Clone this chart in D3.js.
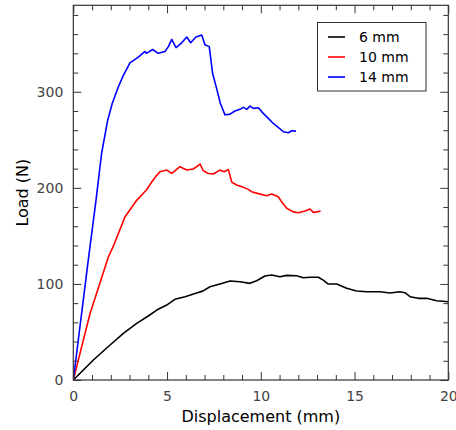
<!DOCTYPE html>
<html>
<head>
<meta charset="utf-8">
<script src="https://cdn.jsdelivr.net/npm/d3@7"></script>
<style>
  body { margin: 0; background: #fff; }
  svg { font-family: "DejaVu Sans", sans-serif; }
</style>
</head>
<body>
<div id="chart"></div>
<script>
// series names and colours
var seriesNames = ["6 mm", "10 mm", "14 mm"];
var seriesColors = ["#000000", "#ff0000", "#0000ff"];

// [displacement (mm), load (N)]
var load6 = [[0,0],[1.07,20.8],[1.96,36.4],[2.67,48.6],[3.38,59],[4.0,66.6],[4.45,72.8],[4.98,78],
  [5.42,84],[5.96,86.7],[6.58,90.5],[6.9,92.5],[7.29,97],[7.82,99.9],[8.36,103],[8.89,102.3],
  [9.42,100.6],[9.78,103.3],[10.22,108.2],[10.58,109.3],[11.02,107.5],[11.38,108.9],[11.91,108.5],
  [12.27,106.5],[12.62,106.9],[13.07,106.9],[13.33,104],[13.6,99.9],[14.05,99.9],[14.58,95.4],
  [15.11,92.6],[15.65,91.9],[16.36,91.9],[16.89,90.5],[17.42,91.9],[17.69,90.9],[17.96,86.7],
  [18.4,85],[18.85,85],[19.38,82.5],[20.0,81.5]];

var load10 = [[0,0],[0.89,69],[1.87,128],[2.13,139],[2.76,170],[3.38,187],[3.91,198],[4.18,206],
  [4.45,213],[4.62,216.8],[4.98,218.5],[5.25,215],[5.69,222],[6.05,218.5],[6.4,219.6],[6.76,224.8],
  [6.93,217.8],[7.2,215],[7.47,214.4],[7.82,218.5],[8.04,216.8],[8.27,219],[8.45,206],[8.71,203],
  [9.07,200.5],[9.33,198.4],[9.51,196],[9.87,194],[10.31,191.8],[10.58,193.5],[10.93,190.7],
  [11.11,185.5],[11.38,178.7],[11.73,175],[12.0,174],[12.36,175.9],[12.62,178],[12.8,174.5],
  [12.98,175],[13.19,176]];

var load14 = [[0,0],[0.8,125],[1.21,187],[1.51,236],[1.83,270],[2.08,288],[2.4,305],[2.67,317],
  [3.02,330],[3.47,336],[3.82,342],[3.9,340],[4.23,344],[4.53,340],[4.89,342],[5.07,347],
  [5.25,354.5],[5.48,346],[5.78,351],[6.05,357],[6.26,351],[6.54,357],[6.85,359],[7.02,349],
  [7.25,347],[7.43,319],[7.65,303],[7.84,288],[8.09,276],[8.34,276.5],[8.62,280],[8.89,281.7],
  [9.07,283.8],[9.25,281.7],[9.42,285],[9.6,282.7],[9.87,283.4],[10.13,277.5],[10.4,272.3],
  [10.67,267],[10.93,263],[11.2,258.4],[11.47,257.4],[11.65,259.4],[11.88,259]];

var xTicks = [0, 5, 10, 15, 20];
var yTicks = [0, 100, 200, 300];

var width = 456, height = 430;
var margin = {top: 5.3, right: 7.7, bottom: 50, left: 73.3};
var innerW = width - margin.left - margin.right;
var innerH = height - margin.top - margin.bottom;

var svg = d3.select("#chart").append("svg")
  .attr("width", width)
  .attr("height", height);

var g = svg.append("g")
  .attr("transform", "translate(" + margin.left + "," + margin.top + ")");

var x = d3.scaleLinear().domain([0, 20]).range([0, innerW]);
var y = d3.scaleLinear().domain([0, 390]).range([innerH, 0]);

var clip = svg.append("defs").append("clipPath").attr("id", "plotclip")
  .append("rect").attr("width", innerW).attr("height", innerH);

// data lines
var line = d3.line().x(d => x(d[0])).y(d => y(d[1]));
var allSeries = [load6, load10, load14];
g.append("g").attr("clip-path", "url(#plotclip)")
  .selectAll("path")
  .data(allSeries)
  .enter().append("path")
  .attr("d", line)
  .attr("fill", "none")
  .attr("stroke", (d, i) => seriesColors[i])
  .attr("stroke-width", 1.6)
  .attr("stroke-linejoin", "round");

// axes with inward ticks on all four sides
var axisColor = "#333";
var minorX = d3.range(0, 21, 1).filter(v => v % 5 !== 0);
var minorY = d3.range(0, 391, 20).filter(v => v % 100 !== 0);

function drawTicks(axisFn, scale, majors, minors, transform, showLabels) {
  var major = g.append("g").attr("transform", transform)
    .call(axisFn(scale).tickValues(majors).tickSizeInner(-8).tickSizeOuter(0)
      .tickPadding(showLabels ? 16 : 0).tickFormat(showLabels ? d3.format("d") : ""));
  g.append("g").attr("transform", transform)
    .call(axisFn(scale).tickValues(minors).tickSizeInner(-5).tickSizeOuter(0).tickFormat(""));
  return major;
}

var bottom = drawTicks(d3.axisBottom, x, xTicks, minorX, "translate(0," + innerH + ")", true);
bottom.selectAll("text").attr("dy", "0.71em").attr("y", 11);
drawTicks(d3.axisTop, x, xTicks, minorX, "translate(0,0)", false);
var left = drawTicks(d3.axisLeft, y, yTicks, minorY, "translate(0,0)", true);
left.selectAll("text").attr("x", -10);
drawTicks(d3.axisRight, y, yTicks, minorY, "translate(" + innerW + ",0)", false);

g.selectAll(".domain").remove();
g.selectAll(".tick line").attr("stroke", axisColor);
g.selectAll(".tick text")
  .attr("fill", "#444")
  .style("font-size", "14px")
  .style("font-family", "DejaVu Sans, sans-serif");

// frame
g.append("rect")
  .attr("width", innerW).attr("height", innerH)
  .attr("fill", "none").attr("stroke", axisColor).attr("stroke-width", 1.2);

// axis titles
svg.append("text")
  .attr("x", margin.left + innerW / 2).attr("y", 422)
  .attr("text-anchor", "middle")
  .style("font-size", "16px")
  .text("Displacement (mm)");

svg.append("text")
  .attr("transform", "translate(28," + (margin.top + innerH / 2) + ") rotate(-90)")
  .attr("text-anchor", "middle")
  .style("font-size", "16px")
  .text("Load (N)");

// legend
var legend = svg.append("g").attr("transform", "translate(317.5,22.5)");
legend.append("rect")
  .attr("width", 108.5).attr("height", 68.5)
  .attr("fill", "#fff").attr("stroke", axisColor).attr("stroke-width", 1);
var rows = legend.selectAll("g.row")
  .data(seriesNames)
  .enter().append("g")
  .attr("transform", (d, i) => "translate(0," + (14.5 + i * 20) + ")");
rows.append("line")
  .attr("x1", 10.5).attr("x2", 27.5)
  .attr("stroke", (d, i) => seriesColors[i])
  .attr("stroke-width", 1.6);
rows.append("text")
  .attr("x", 41.5).attr("dy", "0.35em")
  .style("font-size", "14px")
  .text(d => d);
</script>
</body>
</html>
